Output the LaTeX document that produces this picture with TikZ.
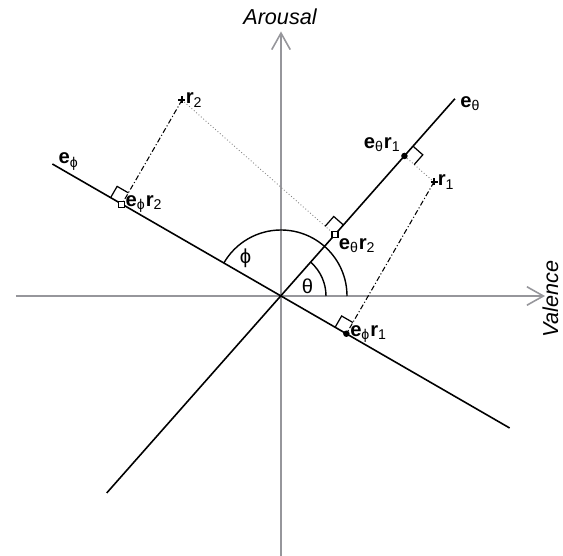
\documentclass[tikz,border=0pt]{standalone}
\usepackage{fontspec}
\setmainfont{Liberation Sans}
\usetikzlibrary{calc,arrows.meta}

\definecolor{axisgray}{RGB}{150,150,155}
\newcommand{\bvec}[1]{\textbf{#1}}
\newcommand{\lsub}[1]{\textsubscript{#1}}

\begin{document}
\begin{tikzpicture}[>={Straight Barb[length=0.33cm,width=0.37cm]},
  font=\fontsize{11.5}{13}\selectfont,
  axis/.style={axisgray, line width=0.9pt},
  axislabel/.style={font=\fontsize{12.3}{14}\selectfont\itshape, inner sep=1pt},
  dirline/.style={black, line width=0.9pt},
  dashdot/.style={black, line width=0.6pt, dash pattern=on 3pt off 1.3pt on 0.6pt off 1.3pt},
  dotline/.style={gray, line width=0.5pt, dash pattern=on 0.5pt off 1.3pt},
  rmark/.style={black, line width=0.7pt},
  anglearc/.style={black, line width=0.8pt}]

\useasboundingbox (-5.62,-5.20) rectangle (5.64,5.92);

% Axes
\coordinate (O) at (0,0);
\draw[axis,->] (-5.30,0) -- (5.28,0);
\draw[axis,->] (0,-5.20) -- (0,5.29);
\node[axislabel] (arousal) at (-0.02,5.59) {Arousal};
\node[axislabel, rotate=90] (valence) at (5.39,-0.06) {Valence};

% Directions e_theta and e_phi
\coordinate (Et) at (48.6:5.26);
\coordinate (Etn) at (228.5:5.26);
\coordinate (Ep) at (150:5.28);
\coordinate (Epn) at (-30:5.28);

% Points r1, r2 and their projections
\coordinate (r1) at (3.06,2.28);
\coordinate (r2) at (-1.98,3.92);
\coordinate (tr1) at ($(O)!(r1)!(Et)$);
\coordinate (tr2) at ($(O)!(r2)!(Et)$);
\coordinate (pr1) at ($(O)!(r1)!(Ep)$);
\coordinate (pr2) at ($(O)!(r2)!(Ep)$);

% Projection lines
\draw[dotline] (r1) -- (tr1);
\draw[dotline] (r2) -- (tr2);
\draw[dashdot] (r1) -- (pr1);
\draw[dashdot] (r2) -- (pr2);

% Angles
\draw[anglearc] (1.32,0) arc (0:150:1.32);
\draw[anglearc] (0.9,0) arc (0:48.6:0.9);
\node (phi) at (-0.71,0.75) {ϕ};
\node (theta) at (0.53,0.2) {θ};

% Direction lines
\draw[dirline] (Etn) -- (Et);
\draw[dirline] (Epn) -- (Ep);
\node[anchor=base west, inner sep=0pt] (lEt) at ($(Et)+(0.1,-0.17)$) {\bvec{e}\lsub{θ}};
\node[anchor=base west, inner sep=0pt] (lEp) at ($(Ep)+(0.12,0)$) {\bvec{e}\lsub{ϕ}};

% Right angle marks
\draw[rmark] ($(tr1)+(48.6:0.26)$) -- ++(-41.4:0.26) -- ++(228.6:0.26);
\draw[rmark] ($(tr2)+(48.6:0.26)$) -- ++(138.6:0.26) -- ++(228.6:0.26);
\draw[rmark] ($(pr1)+(150:0.26)$) -- ++(60:0.26) -- ++(-30:0.26);
\draw[rmark] ($(pr2)+(150:0.26)$) -- ++(60:0.26) -- ++(-30:0.26);

% Projected points
\fill (tr1) circle (0.065);
\fill (pr1) circle (0.065);
\draw[rmark, fill=white] ($(tr2)+(-0.06,-0.06)$) rectangle ++(0.12,0.12);
\draw[rmark, fill=white] ($(pr2)+(-0.06,-0.06)$) rectangle ++(0.12,0.12);
\node[above left, inner sep=2pt] (ltr1) at (tr1) {\bvec{e}\lsub{θ}\bvec{r}\lsub{1}};
\node[below right, inner sep=2pt] (ltr2) at (tr2) {\bvec{e}\lsub{θ}\bvec{r}\lsub{2}};
\node[right, inner sep=2pt] (lpr1) at (pr1) {\bvec{e}\lsub{ϕ}\bvec{r}\lsub{1}};
\node[right, inner sep=2pt] (lpr2) at (pr2) {\bvec{e}\lsub{ϕ}\bvec{r}\lsub{2}};

% Points r1 and r2
\draw[rmark] (r1) +(-0.07,0) -- +(0.07,0) (r1) +(0,-0.07) -- +(0,0.07);
\draw[rmark] (r2) +(-0.07,0) -- +(0.07,0) (r2) +(0,-0.07) -- +(0,0.07);
\node[right, inner sep=2pt] (lr1) at (r1) {\bvec{r}\lsub{1}};
\node[right, inner sep=2pt] (lr2) at (r2) {\bvec{r}\lsub{2}};

\end{tikzpicture}
\end{document}
